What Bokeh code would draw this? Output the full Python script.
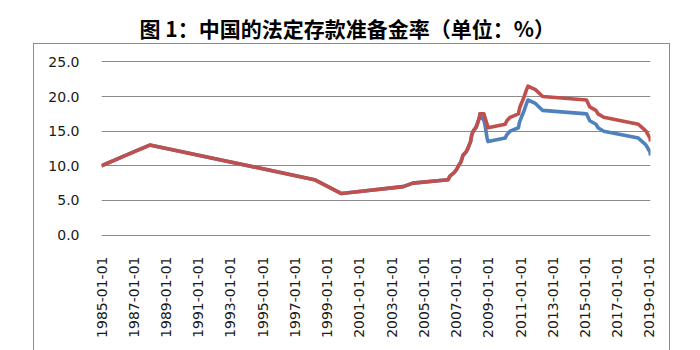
import math
import pandas as pd
from bokeh.plotting import figure
from bokeh.models import (Range1d, FixedTicker, DatetimeTickFormatter, Label,
                          NumeralTickFormatter, ColumnDataSource, InlineStyleSheet)
from bokeh.embed import file_html
from bokeh.resources import INLINE

# ---------------- data ----------------
dates = [
    "1985-01-01", "1987-01-01", "1988-01-01", "1998-03-21", "1999-11-21",
    "2003-09-21", "2004-04-25", "2006-07-05", "2006-08-15", "2006-11-15",
    "2007-01-15", "2007-02-25", "2007-04-16", "2007-05-15", "2007-06-05",
    "2007-08-15", "2007-09-25", "2007-10-25", "2007-11-26", "2007-12-25",
    "2008-01-25", "2008-03-25", "2008-04-25", "2008-05-20", "2008-06-15",
    "2008-06-25", "2008-09-25", "2008-10-15", "2008-12-05", "2008-12-25",
    "2010-01-18", "2010-02-25", "2010-05-10", "2010-11-16", "2010-11-29",
    "2010-12-20", "2011-01-20", "2011-02-24", "2011-03-25", "2011-04-21",
    "2011-05-18", "2011-06-20", "2011-12-05", "2012-02-24", "2012-05-18",
    "2015-02-05", "2015-04-20", "2015-09-06", "2015-10-24", "2016-03-01",
    "2018-04-25", "2018-10-15", "2019-01-15", "2019-01-25",
]
large_banks = [
    10.0, 12.0, 13.0, 8.0, 6.0,
    7.0, 7.5, 8.0, 8.5, 9.0,
    9.5, 10.0, 10.5, 11.0, 11.5,
    12.0, 12.5, 13.0, 13.5, 14.5,
    15.0, 15.5, 16.0, 16.5, 17.0,
    17.5, 17.5, 17.0, 16.0, 15.5,
    16.0, 16.5, 17.0, 17.5, 18.0,
    18.5, 19.0, 19.5, 20.0, 20.5,
    21.0, 21.5, 21.0, 20.5, 20.0,
    19.5, 18.5, 18.0, 17.5, 17.0,
    16.0, 15.0, 14.0, 13.5,
]
small_banks = [
    10.0, 12.0, 13.0, 8.0, 6.0,
    7.0, 7.5, 8.0, 8.5, 9.0,
    9.5, 10.0, 10.5, 11.0, 11.5,
    12.0, 12.5, 13.0, 13.5, 14.5,
    15.0, 15.5, 16.0, 16.5, 17.0,
    17.5, 16.5, 16.0, 14.0, 13.5,
    14.0, 14.5, 15.0, 15.5, 16.0,
    16.5, 17.0, 17.5, 18.0, 18.5,
    19.0, 19.5, 19.0, 18.5, 18.0,
    17.5, 16.5, 16.0, 15.5, 15.0,
    14.0, 13.0, 12.0, 11.5,
]
x_tick_labels = ["1985-01-01", "1987-01-01", "1989-01-01", "1991-01-01",
                 "1993-01-01", "1995-01-01", "1997-01-01", "1999-01-01",
                 "2001-01-01", "2003-01-01", "2005-01-01", "2007-01-01",
                 "2009-01-01", "2011-01-01", "2013-01-01", "2015-01-01",
                 "2017-01-01", "2019-01-01"]
y_ticks = [0, 5, 10, 15, 20, 25]
title_text = "图 1：中国的法定存款准备金率（单位：%）"
x_start, x_end = "1985-01-01", "2019-01-25"

# ---------------- figure ----------------
def to_ms(s):
    return (pd.Timestamp(s) - pd.Timestamp("1970-01-01")) // pd.Timedelta(milliseconds=1)

src = ColumnDataSource(dict(date=pd.to_datetime(dates), large=large_banks, small=small_banks))

# thin grey chart-area border (drawn by CSS around the plot region)
box_css = InlineStyleSheet(css="""
:host { position: relative; }
:host::after {
  content: ''; position: absolute; left: 33px; top: 43px;
  width: 637px; height: 330px; border: 1px solid #8c8c8c;
  pointer-events: none; box-sizing: border-box;
}
""")

# frame spans the full height above the x labels; y range extends above 25
# so the 25 gridline sits where the reference's plot area begins
p = figure(width=700, height=350, output_backend="svg", toolbar_location=None,
           title_location=None, x_axis_type="datetime",
           x_range=Range1d(pd.Timestamp(x_start), pd.Timestamp(x_end)),
           y_range=Range1d(-0.2, 33.86),
           min_border_left=101, min_border_right=50,
           min_border_top=0, min_border_bottom=114)
p.stylesheets = [box_css]
p.background_fill_color = None
p.border_fill_color = "white"
p.outline_line_color = None

p.line("date", "small", source=src, line_color="#4F81BD", line_width=3.6, line_join="round")
p.line("date", "large", source=src, line_color="#C0504D", line_width=3.6, line_join="round")

p.add_layout(Label(x=38, y=209, x_units="screen", y_units="screen", text=title_text,
                   text_font="Noto Sans CJK SC", text_font_size="21px",
                   text_font_style="bold", text_color="#000000",
                   text_baseline="middle", text_align="left"))

# axes
p.xaxis.ticker = FixedTicker(ticks=[to_ms(t) for t in x_tick_labels])
fmt = "%Y-%m-%d"
p.xaxis.formatter = DatetimeTickFormatter(milliseconds=fmt, seconds=fmt, minsec=fmt, minutes=fmt,
                                          hourmin=fmt, hours=fmt, days=fmt, months=fmt, years=fmt)
p.xaxis.major_label_orientation = math.pi / 2
p.yaxis.ticker = FixedTicker(ticks=y_ticks)
p.yaxis.formatter = NumeralTickFormatter(format="0.0")
for ax in (p.xaxis[0], p.yaxis[0]):
    ax.axis_line_color = None
    ax.major_tick_line_color = None
    ax.minor_tick_line_color = None
    ax.major_label_text_font = "DejaVu Sans"
    ax.major_label_text_font_size = "14px"
    ax.major_label_text_color = "#1a1a1a"
p.xaxis.major_label_standoff = 14
p.yaxis.major_label_standoff = 16

p.xgrid.grid_line_color = None
p.ygrid.grid_line_color = "#8c8c8c"
p.ygrid.grid_line_width = 1

open("out.html", "w").write(file_html(p, INLINE))
